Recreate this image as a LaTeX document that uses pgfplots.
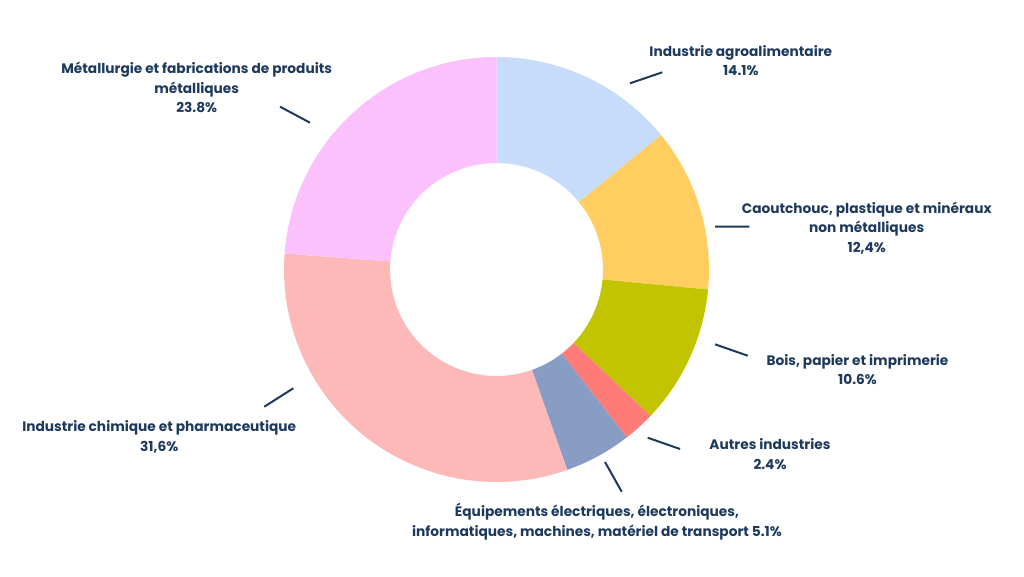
\documentclass[border=0pt]{standalone}
\usepackage{pgfplots}
\pgfplotsset{compat=1.18}
\usepackage{pgfplotstable}
\usepackage{fontspec}
\setmainfont{Poppins}
\definecolor{navy}{HTML}{1D3A5C}
\definecolor{cA}{HTML}{C7DBFA}
\definecolor{cB}{HTML}{FFCD60}
\definecolor{cC}{HTML}{C2C400}
\definecolor{cD}{HTML}{FF7B78}
\definecolor{cE}{HTML}{879DC3}
\definecolor{cF}{HTML}{FDB8B8}
\definecolor{cG}{HTML}{FCC0FC}
\tikzset{lbl/.style={font=\bfseries\fontsize{10.3}{14.6}\selectfont, text=navy, align=center, inner sep=0pt}}
\pgfplotstableread{
value color
14.1 cA
12.4 cB
10.6 cC
2.4 cD
5.1 cE
31.6 cF
23.8 cG
}\sectors
\begin{document}
\begin{tikzpicture}
\begin{axis}[x=0.75pt,y=0.75pt,xmin=0,xmax=1024,ymin=0,ymax=576,hide axis,clip=false]
\path (axis cs:0,0) rectangle (axis cs:1024,576);
\pgfplotstablegetrowsof{\sectors}
\pgfmathtruncatemacro\N{\pgfplotsretval-1}
\xdef\cum{0}
\pgfplotsforeachungrouped \i in {0,...,\N}{%
  \pgfplotstablegetelem{\i}{value}\of\sectors \let\v\pgfplotsretval
  \pgfplotstablegetelem{\i}{color}\of\sectors \let\c\pgfplotsretval
  \pgfmathsetmacro\a{90-3.6*\cum}%
  \pgfmathsetmacro\b{90-3.6*(\cum+\v)}%
  \pgfmathsetmacro\xo{496.5+212.5*cos(\a)}%
  \pgfmathsetmacro\yo{306.5+212.5*sin(\a)}%
  \pgfmathsetmacro\xi{496.5+106.5*cos(\b)}%
  \pgfmathsetmacro\yi{306.5+106.5*sin(\b)}%
  \edef\temp{\noexpand\fill[\c] (axis cs:\xo,\yo) arc[start angle=\a, end angle=\b, radius=159.375pt] -- (axis cs:\xi,\yi) arc[start angle=\b, end angle=\a, radius=79.875pt] -- cycle;}%
  \temp
  \pgfmathsetmacro\cumn{\cum+\v}%
  \xdef\cum{\cumn}%
}
\draw[navy, line width=1.5pt]
  (axis cs:630,492.7) -- (axis cs:662.3,503.7)
  (axis cs:715,349.3) -- (axis cs:749.3,349.3)
  (axis cs:715,231.7) -- (axis cs:747.7,220.3)
  (axis cs:647.7,138.3) -- (axis cs:680,127)
  (axis cs:605,114) -- (axis cs:621.7,84.3)
  (axis cs:264.3,169.3) -- (axis cs:293.3,187.7)
  (axis cs:280,469.3) -- (axis cs:310,453.3);
\node[lbl] at (axis cs:740.8,515.3) {Industrie agroalimentaire\\14.1\%};
\node[lbl] at (axis cs:866.7,348.2) {Caoutchouc, plastique et minéraux\\non métalliques\\12,4\%};
\node[lbl] at (axis cs:857.5,206.3) {Bois, papier et imprimerie\\10.6\%};
\node[lbl] at (axis cs:770,121.7) {Autres industries\\2.4\%};
\node[lbl] at (axis cs:597,54.6) {Équipements électriques, électroniques,\\informatiques, machines, matériel de transport 5.1\%};
\node[lbl] at (axis cs:159.2,139.3) {Industrie chimique et pharmaceutique\\31,6\%};
\node[lbl] at (axis cs:196.7,488.2) {Métallurgie et fabrications de produits\\métalliques\\23.8\%};
\end{axis}
\end{tikzpicture}
\end{document}
